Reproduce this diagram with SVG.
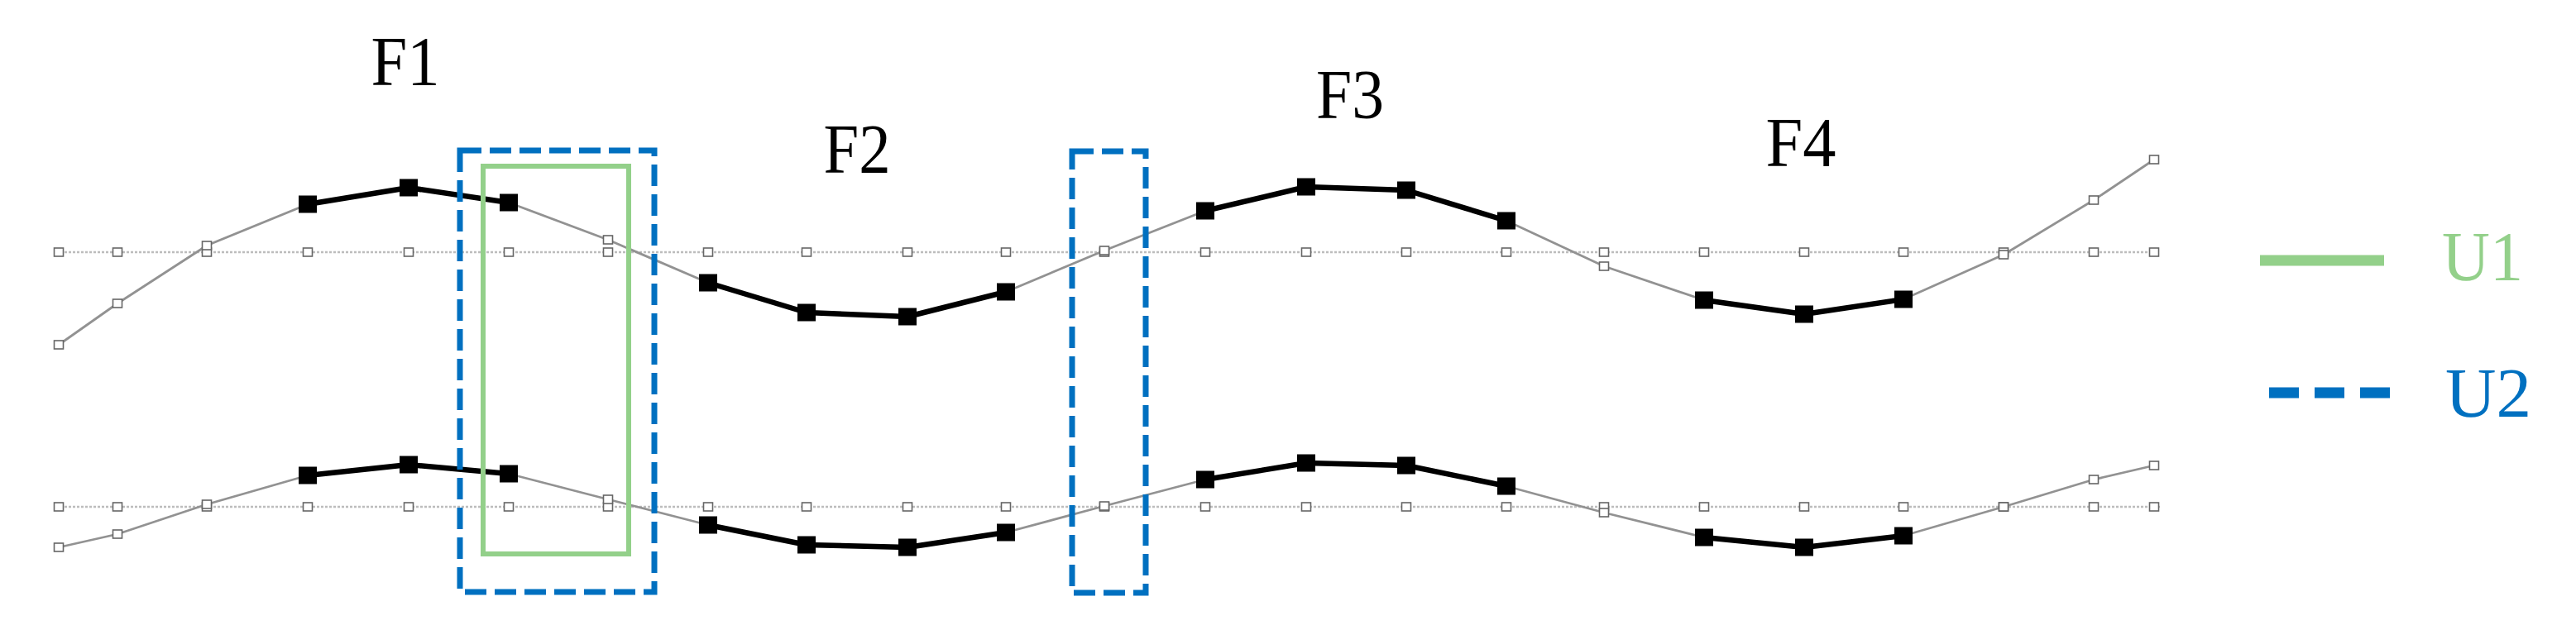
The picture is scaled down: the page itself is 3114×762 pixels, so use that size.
<svg xmlns="http://www.w3.org/2000/svg" xmlns:xlink="http://www.w3.org/1999/xlink" width="3114" height="762" viewBox="0 0 3114 762">
<style>
.bg{fill:#ffffff}
.lbl{font-family:"Liberation Serif","Times New Roman",serif;font-size:85px;text-anchor:middle}
.f{fill:#000000}
.base{stroke:#bdbdbd;stroke-width:2.5;stroke-dasharray:3 2;fill:none}
.thin{stroke:#929292;stroke-width:2.8;fill:none;stroke-linejoin:round}
.thick{stroke:#000000;stroke-width:6.5;fill:none;stroke-linejoin:round}
.u1{stroke:#93D08A;stroke-width:6;fill:none}
.u2{stroke:#0070C0;stroke-width:7;fill:none;stroke-dasharray:26 10}
</style>
<defs>
<rect id="sq" x="-5.5" y="-5" width="11" height="10" fill="#ffffff" stroke="#666666" stroke-width="1.6"/>
<rect id="bq" x="-11" y="-10.5" width="22" height="21" fill="#000000"/>
</defs>
<rect class="bg" x="0" y="0" width="3114" height="762"/>

<g id="labels">
<text class="lbl f" x="490" y="103" textLength="83" lengthAdjust="spacingAndGlyphs">F1</text>
<text class="lbl f" x="1036" y="209" textLength="81" lengthAdjust="spacingAndGlyphs">F2</text>
<text class="lbl f" x="1632" y="143" textLength="82" lengthAdjust="spacingAndGlyphs">F3</text>
<text class="lbl f" x="2177" y="201" textLength="85" lengthAdjust="spacingAndGlyphs">F4</text>
</g>

<g id="upper-signal">
<line class="base" x1="68" y1="305" x2="2610" y2="305"/>
<g>
<use xlink:href="#sq" x="71" y="305"/><use xlink:href="#sq" x="142" y="305"/><use xlink:href="#sq" x="250" y="305"/><use xlink:href="#sq" x="372" y="305"/><use xlink:href="#sq" x="494" y="305"/><use xlink:href="#sq" x="615" y="305"/><use xlink:href="#sq" x="735" y="305"/><use xlink:href="#sq" x="856" y="305"/><use xlink:href="#sq" x="975" y="305"/><use xlink:href="#sq" x="1097" y="305"/><use xlink:href="#sq" x="1216" y="305"/><use xlink:href="#sq" x="1335" y="305"/><use xlink:href="#sq" x="1457" y="305"/><use xlink:href="#sq" x="1579" y="305"/><use xlink:href="#sq" x="1700" y="305"/><use xlink:href="#sq" x="1821" y="305"/><use xlink:href="#sq" x="1939" y="305"/><use xlink:href="#sq" x="2060" y="305"/><use xlink:href="#sq" x="2181" y="305"/><use xlink:href="#sq" x="2301" y="305"/><use xlink:href="#sq" x="2422" y="305"/><use xlink:href="#sq" x="2531" y="305"/><use xlink:href="#sq" x="2604" y="305"/>
</g>
<polyline class="thin" points="71,417 142,367 250,297 372,247 494,227 615,245 735,290 856,342 975,378 1097,383 1216,353 1335,303 1457,255 1579,226 1700,230 1821,267 1939,322 2060,363 2181,380 2301,362 2422,308 2531,242 2604,193"/>
<polyline class="thick" points="372,247 494,227 615,245"/>
<polyline class="thick" points="856,342 975,378 1097,383 1216,353"/>
<polyline class="thick" points="1457,255 1579,226 1700,230 1821,267"/>
<polyline class="thick" points="2060,363 2181,380 2301,362"/>
<use xlink:href="#sq" x="71" y="417"/><use xlink:href="#sq" x="142" y="367"/><use xlink:href="#sq" x="250" y="297"/><use xlink:href="#sq" x="735" y="290"/><use xlink:href="#sq" x="1335" y="303"/><use xlink:href="#sq" x="1939" y="322"/><use xlink:href="#sq" x="2422" y="308"/><use xlink:href="#sq" x="2531" y="242"/><use xlink:href="#sq" x="2604" y="193"/>
<use xlink:href="#bq" x="372" y="247"/><use xlink:href="#bq" x="494" y="227"/><use xlink:href="#bq" x="615" y="245"/>
<use xlink:href="#bq" x="856" y="342"/><use xlink:href="#bq" x="975" y="378"/><use xlink:href="#bq" x="1097" y="383"/><use xlink:href="#bq" x="1216" y="353"/>
<use xlink:href="#bq" x="1457" y="255"/><use xlink:href="#bq" x="1579" y="226"/><use xlink:href="#bq" x="1700" y="230"/><use xlink:href="#bq" x="1821" y="267"/>
<use xlink:href="#bq" x="2060" y="363"/><use xlink:href="#bq" x="2181" y="380"/><use xlink:href="#bq" x="2301" y="362"/>
</g>

<g id="lower-signal">
<line class="base" x1="68" y1="613" x2="2612" y2="613"/>
<g>
<use xlink:href="#sq" x="71" y="613"/><use xlink:href="#sq" x="142" y="613"/><use xlink:href="#sq" x="250" y="613"/><use xlink:href="#sq" x="372" y="613"/><use xlink:href="#sq" x="494" y="613"/><use xlink:href="#sq" x="615" y="613"/><use xlink:href="#sq" x="735" y="613"/><use xlink:href="#sq" x="856" y="613"/><use xlink:href="#sq" x="975" y="613"/><use xlink:href="#sq" x="1097" y="613"/><use xlink:href="#sq" x="1216" y="613"/><use xlink:href="#sq" x="1335" y="613"/><use xlink:href="#sq" x="1457" y="613"/><use xlink:href="#sq" x="1579" y="613"/><use xlink:href="#sq" x="1700" y="613"/><use xlink:href="#sq" x="1821" y="613"/><use xlink:href="#sq" x="1939" y="613"/><use xlink:href="#sq" x="2060" y="613"/><use xlink:href="#sq" x="2181" y="613"/><use xlink:href="#sq" x="2301" y="613"/><use xlink:href="#sq" x="2422" y="613"/><use xlink:href="#sq" x="2531" y="613"/><use xlink:href="#sq" x="2604" y="613"/>
</g>
<polyline class="thin" points="71,662 142,646 250,610 372,575 494,562 615,573 735,604 856,635 975,659 1097,662 1216,644 1335,612 1457,580 1579,560 1700,563 1821,588 1939,620 2060,650 2181,662 2301,648 2422,613 2531,580 2604,563"/>
<polyline class="thick" points="372,575 494,562 615,573"/>
<polyline class="thick" points="856,635 975,659 1097,662 1216,644"/>
<polyline class="thick" points="1457,580 1579,560 1700,563 1821,588"/>
<polyline class="thick" points="2060,650 2181,662 2301,648"/>
<use xlink:href="#sq" x="71" y="662"/><use xlink:href="#sq" x="142" y="646"/><use xlink:href="#sq" x="250" y="610"/><use xlink:href="#sq" x="735" y="604"/><use xlink:href="#sq" x="1335" y="612"/><use xlink:href="#sq" x="1939" y="620"/><use xlink:href="#sq" x="2422" y="613"/><use xlink:href="#sq" x="2531" y="580"/><use xlink:href="#sq" x="2604" y="563"/>
<use xlink:href="#bq" x="372" y="575"/><use xlink:href="#bq" x="494" y="562"/><use xlink:href="#bq" x="615" y="573"/>
<use xlink:href="#bq" x="856" y="635"/><use xlink:href="#bq" x="975" y="659"/><use xlink:href="#bq" x="1097" y="662"/><use xlink:href="#bq" x="1216" y="644"/>
<use xlink:href="#bq" x="1457" y="580"/><use xlink:href="#bq" x="1579" y="560"/><use xlink:href="#bq" x="1700" y="563"/><use xlink:href="#bq" x="1821" y="588"/>
<use xlink:href="#bq" x="2060" y="650"/><use xlink:href="#bq" x="2181" y="662"/><use xlink:href="#bq" x="2301" y="648"/>
</g>

<g id="boxes">
<rect id="u1-box" class="u1" x="584" y="201" width="176" height="469"/>
<rect id="u2-box-a" class="u2" x="556" y="182" width="235" height="534"/>
<rect id="u2-box-b" class="u2" x="1296" y="183" width="89" height="534"/>
</g>

<g id="legend">
<g id="legend-u1">
<line x1="2732" y1="315" x2="2882" y2="315" stroke="#93D08A" stroke-width="13"/>
<text class="lbl" x="3001" y="339" fill="#93D08A" textLength="98" lengthAdjust="spacingAndGlyphs">U1</text>
</g>
<g id="legend-u2">
<line x1="2743" y1="475" x2="2890" y2="475" stroke="#0070C0" stroke-width="13" stroke-dasharray="36 19"/>
<text class="lbl" x="3008" y="504" fill="#0070C0" textLength="104" lengthAdjust="spacingAndGlyphs">U2</text>
</g>
</g>
</svg>
